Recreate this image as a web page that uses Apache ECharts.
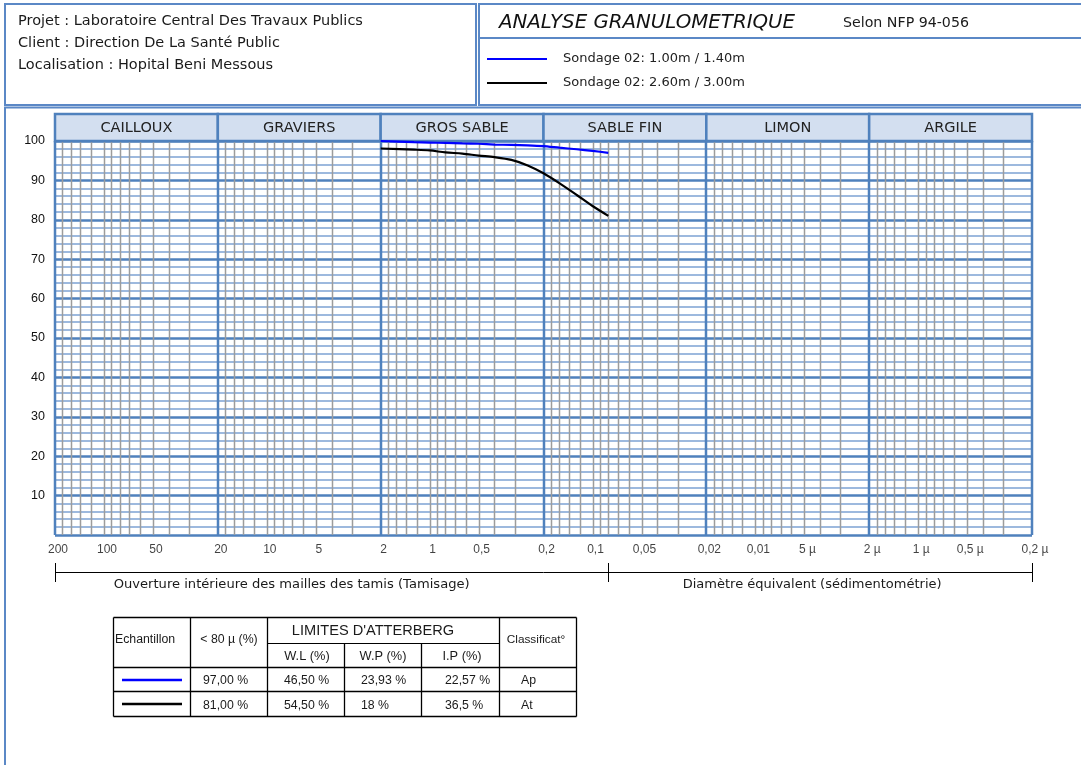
<!DOCTYPE html>
<html>
<head>
<meta charset="utf-8">
<title>Analyse granulométrique</title>
<script src="https://cdn.jsdelivr.net/npm/echarts@6/dist/echarts.min.js"></script>
<style>
  html, body { margin: 0; padding: 0; background: #ffffff; }
  #chart { width: 1081px; height: 765px; }
</style>
</head>
<body>
<div id="chart"></div>
<script>
// ---- Sieve analysis data (mm, % passing) ----
const sieveSizes = [2, 1.25, 1, 0.8, 0.63, 0.5, 0.4, 0.315, 0.25, 0.2, 0.16, 0.125, 0.1, 0.08];
const passingS1  = [100, 99.7, 99.6, 99.5, 99.4, 99.3, 99.1, 99.0, 98.9, 98.7, 98.3, 97.9, 97.5, 97.0];
const passingS2  = [98.1, 97.8, 97.6, 97.1, 96.8, 96.3, 95.9, 95.2, 93.8, 91.8, 89.3, 86.3, 83.5, 81.0];
const sampleNames  = ['Sondage 02: 1.00m / 1.40m', 'Sondage 02: 2.60m / 3.00m'];
const sampleColors = ['#0000ff', '#000000'];

// ---- Soil classes along the size axis ----
const classNames  = ['CAILLOUX', 'GRAVIERS', 'GROS SABLE', 'SABLE FIN', 'LIMON', 'ARGILE'];
const classBounds = [200, 20, 2, 0.2, 0.02, 0.002, 0.0002];

// ---- Size axis tick labels ----
const tickValues = [200, 100, 50, 20, 10, 5, 2, 1, 0.5, 0.2, 0.1, 0.05, 0.02, 0.01, 0.005, 0.002, 0.001, 0.0005, 0.0002];
const tickLabels = ['200', '100', '50', '20', '10', '5', '2', '1', '0,5', '0,2', '0,1', '0,05', '0,02', '0,01', '5 µ', '2 µ', '1 µ', '0,5 µ', '0,2 µ'];
const sieveLimit = 0.08; // 80 µm: end of sieving, start of sedimentometry

// ---- Atterberg limits table ----
const fines80         = ['97,00 %', '81,00 %'];
const liquidLimit     = ['46,50 %', '54,50 %'];
const plasticLimit    = ['23,93 %', '18 %'];
const plasticityIndex = ['22,57 %', '36,5 %'];
const classification  = ['Ap', 'At'];

// ---- Header texts ----
const projectLines = [
  'Projet : Laboratoire Central Des Travaux Publics',
  'Client : Direction De La Santé Public',
  'Localisation : Hopital Beni Messous'
];

// ---- Styling ----
const F_UI = "'DejaVu Sans', Verdana, sans-serif";
const F_AR = "'Liberation Sans', Arial, sans-serif";
const BLUE = '#4f81bd';
const FRAME = '#5b88c6';

// fractions of the upper bound of each decade for the minor vertical rulings
const minorFractions = [0.9, 0.8, 0.7, 0.6, 0.5, 0.45, 0.4, 0.35, 0.3, 0.25, 0.2, 0.15];

const vRulings = [];
for (let d = 0; d < classBounds.length - 1; d++) {
  minorFractions.forEach(f => vRulings.push([classBounds[d] * f, 0]));
}
classBounds.forEach(b => vRulings.push([b, 1]));

const chart = echarts.init(document.getElementById('chart'), null, { renderer: 'canvas' });

function renderRuling(params, api) {
  const v = api.value(0);
  const major = api.value(1) === 1;
  const a = api.coord([v, 0]);
  const b = api.coord([v, 100]);
  const x = major ? Math.round(a[0]) : Math.round(a[0]) + 0.5;
  return {
    type: 'line',
    shape: { x1: x, y1: a[1], x2: x, y2: b[1] },
    style: { stroke: major ? BLUE : '#9c9c9c', lineWidth: major ? 2.5 : 1.5 },
    z2: major ? 10 : 1
  };
}

function renderClass(params, api) {
  const a = api.coord([api.value(0), 1]);
  const b = api.coord([api.value(1), 0]);
  const name = classNames[api.value(2)];
  return {
    type: 'group',
    children: [
      {
        type: 'rect',
        shape: { x: a[0], y: a[1], width: b[0] - a[0], height: b[1] - a[1] },
        style: { fill: '#d3dff0', stroke: BLUE, lineWidth: 2.5 }
      },
      {
        type: 'text',
        style: {
          text: name, x: (a[0] + b[0]) / 2, y: (a[1] + b[1]) / 2 + 1,
          align: 'center', verticalAlign: 'middle',
          font: '14.5px ' + F_UI, fill: '#222'
        }
      }
    ]
  };
}

const option = {
  animation: false,
  grid: [
    { left: 55, right: 49, top: 141, height: 394, show: false },
    { left: 55, right: 49, top: 114, height: 27, show: false }
  ],
  xAxis: [
    {
      gridIndex: 0, type: 'log', logBase: 10, inverse: true, min: 0.0002, max: 200,
      axisLine: { show: false }, axisTick: { show: false }, axisLabel: { show: false },
      splitLine: { show: false }
    },
    {
      gridIndex: 1, type: 'log', logBase: 10, inverse: true, min: 0.0002, max: 200,
      show: false
    }
  ],
  yAxis: [
    {
      gridIndex: 0, type: 'value', min: 0, max: 100, interval: 10,
      axisLine: { show: false }, axisTick: { show: false },
      axisLabel: {
        margin: 10, fontFamily: F_AR, fontSize: 12.5, color: '#111',
        formatter: v => (v === 0 ? '' : String(v))
      },
      splitLine: { show: true, lineStyle: { color: BLUE, width: 2.5 } },
      minorTick: { show: false, splitNumber: 5 },
      minorSplitLine: { show: true, lineStyle: { color: '#7da2d3', width: 1.6 } }
    },
    { gridIndex: 1, type: 'value', min: 0, max: 1, show: false }
  ],
  legend: {
    orient: 'vertical', left: 482, top: 46, itemWidth: 60, itemHeight: 2, itemGap: 8,
    icon: 'rect', data: sampleNames, selectedMode: false,
    textStyle: { fontFamily: F_UI, fontSize: 13, color: '#222', padding: [0, 0, 0, 11], lineHeight: 16 }
  },
  series: [
    {
      name: 'rulings', type: 'custom', xAxisIndex: 0, yAxisIndex: 0, clip: false, silent: true, z: 1,
      renderItem: renderRuling, data: vRulings
    },
    {
      name: 'classes', type: 'custom', xAxisIndex: 1, yAxisIndex: 1, clip: false, silent: true, z: 2,
      renderItem: renderClass,
      data: classNames.map((n, i) => [classBounds[i], classBounds[i + 1], i])
    },
    {
      name: 'sizeLabels', type: 'scatter', xAxisIndex: 0, yAxisIndex: 0, silent: true, z: 2,
      symbolSize: 1, itemStyle: { color: 'rgba(0,0,0,0)' },
      label: {
        show: true, position: 'bottom', distance: 8, offset: [3, 0],
        formatter: '{b}', fontFamily: F_AR, fontSize: 12, color: '#111'
      },
      data: tickValues.map((v, i) => ({ name: tickLabels[i], value: [v, 0] }))
    },
    {
      name: sampleNames[0], type: 'line', xAxisIndex: 0, yAxisIndex: 0, z: 5,
      symbol: 'none', smooth: 0.2, clip: false,
      lineStyle: { color: sampleColors[0], width: 2.2 }, itemStyle: { color: sampleColors[0] },
      data: sieveSizes.map((s, i) => [s, passingS1[i]])
    },
    {
      name: sampleNames[1], type: 'line', xAxisIndex: 0, yAxisIndex: 0, z: 5,
      symbol: 'none', smooth: 0.3, clip: false,
      lineStyle: { color: sampleColors[1], width: 2.2 }, itemStyle: { color: sampleColors[1] },
      data: sieveSizes.map((s, i) => [s, passingS2[i]])
    }
  ]
};

chart.setOption(option);

// ---- Frame, headings, size-range bracket and Atterberg table ----
const px = v => chart.convertToPixel({ xAxisIndex: 0 }, v);
const g = [];

function line(x1, y1, x2, y2, stroke, w) {
  g.push({ type: 'line', silent: true, shape: { x1, y1, x2, y2 }, style: { stroke, lineWidth: w } });
}
function text(str, x, y, font, align, fill) {
  g.push({
    type: 'text', silent: true,
    style: { text: str, x, y, font, align: align || 'left', verticalAlign: 'middle', fill: fill || '#1a1a1a' }
  });
}

// page frame
g.push({ type: 'rect', silent: true, shape: { x: 5, y: 4, width: 471, height: 101 }, style: { fill: 'none', stroke: FRAME, lineWidth: 2 } });
g.push({ type: 'rect', silent: true, shape: { x: 479, y: 4, width: 610, height: 34 }, style: { fill: 'none', stroke: FRAME, lineWidth: 2 } });
g.push({ type: 'rect', silent: true, shape: { x: 479, y: 38, width: 610, height: 67 }, style: { fill: 'none', stroke: FRAME, lineWidth: 2 } });
g.push({ type: 'rect', silent: true, shape: { x: 5, y: 107.5, width: 1090, height: 700 }, style: { fill: 'none', stroke: FRAME, lineWidth: 2 } });

// project block
projectLines.forEach((s, i) => text(s, 18, 21 + i * 22, '14.5px ' + F_UI, 'left', '#1a1a1a'));

// title block
text('ANALYSE GRANULOMETRIQUE', 499, 23, 'italic 19.8px ' + F_UI, 'left', '#111');
text('Selon NFP 94-056', 843, 23, '14.2px ' + F_UI, 'left', '#1a1a1a');

// sieving / sedimentometry bracket
const xa = px(classBounds[0]), xb = px(sieveLimit), xc = px(classBounds[classBounds.length - 1]);
const yb = 572.5;
line(xa, yb, xc, yb, '#000', 1);
[xa, xb, xc].forEach(x => line(Math.round(x) + 0.5, 563, Math.round(x) + 0.5, 582, '#000', 1));
text('Ouverture intérieure des mailles des tamis (Tamisage)', (xa + xb) / 2 - 40, 585, '13.1px ' + F_UI, 'center', '#1a1a1a');
text('Diamètre équivalent (sédimentométrie)', (xb + xc) / 2 - 8, 585, '13px ' + F_UI, 'center', '#1a1a1a');

// Atterberg limits table
const cx = [113.5, 190.5, 267.5, 344.5, 421.5, 499.5, 576.5];
const ry = [617.5, 643.5, 667.5, 691.5, 716.5];
line(cx[0], ry[0], cx[6], ry[0], '#000', 1.3);
line(cx[2], ry[1], cx[5], ry[1], '#000', 1);
line(cx[0], ry[2], cx[6], ry[2], '#000', 1.3);
line(cx[0], ry[3], cx[6], ry[3], '#000', 1.3);
line(cx[0], ry[4], cx[6], ry[4], '#000', 1.6);
[0, 1, 2, 5, 6].forEach(i => line(cx[i], ry[0], cx[i], ry[4], '#000', 1.3));
[3, 4].forEach(i => line(cx[i], ry[1], cx[i], ry[4], '#000', 1.3));

const tf = '12.3px ' + F_AR;
text('Echantillon', 115, 640, tf, 'left');
text('< 80 µ (%)', 229, 640, tf, 'center');
text("LIMITES D'ATTERBERG", 373, 631, '14.6px ' + F_AR, 'center');
text('Classificat°', 536, 640, '11.8px ' + F_AR, 'center');
text('W.L (%)', 307, 656, '12.8px ' + F_AR, 'center');
text('W.P (%)', 383, 656, '12.8px ' + F_AR, 'center');
text('I.P (%)', 462, 656, '12.8px ' + F_AR, 'center');

[0, 1].forEach(r => {
  const y = r === 0 ? 681 : 705.5;
  const ly = r === 0 ? 680 : 704;
  line(122, ly, 182, ly, sampleColors[r], 2.6);
  text(fines80[r], 203, y, '12.3px ' + F_AR, 'left');
  text(liquidLimit[r], 284, y, '12.3px ' + F_AR, 'left');
  text(plasticLimit[r], 361, y, '12.3px ' + F_AR, 'left');
  text(plasticityIndex[r], 445, y, '12.3px ' + F_AR, 'left');
  text(classification[r], 521, y, '12.3px ' + F_AR, 'left');
});

chart.setOption({ graphic: g });
</script>
</body>
</html>
